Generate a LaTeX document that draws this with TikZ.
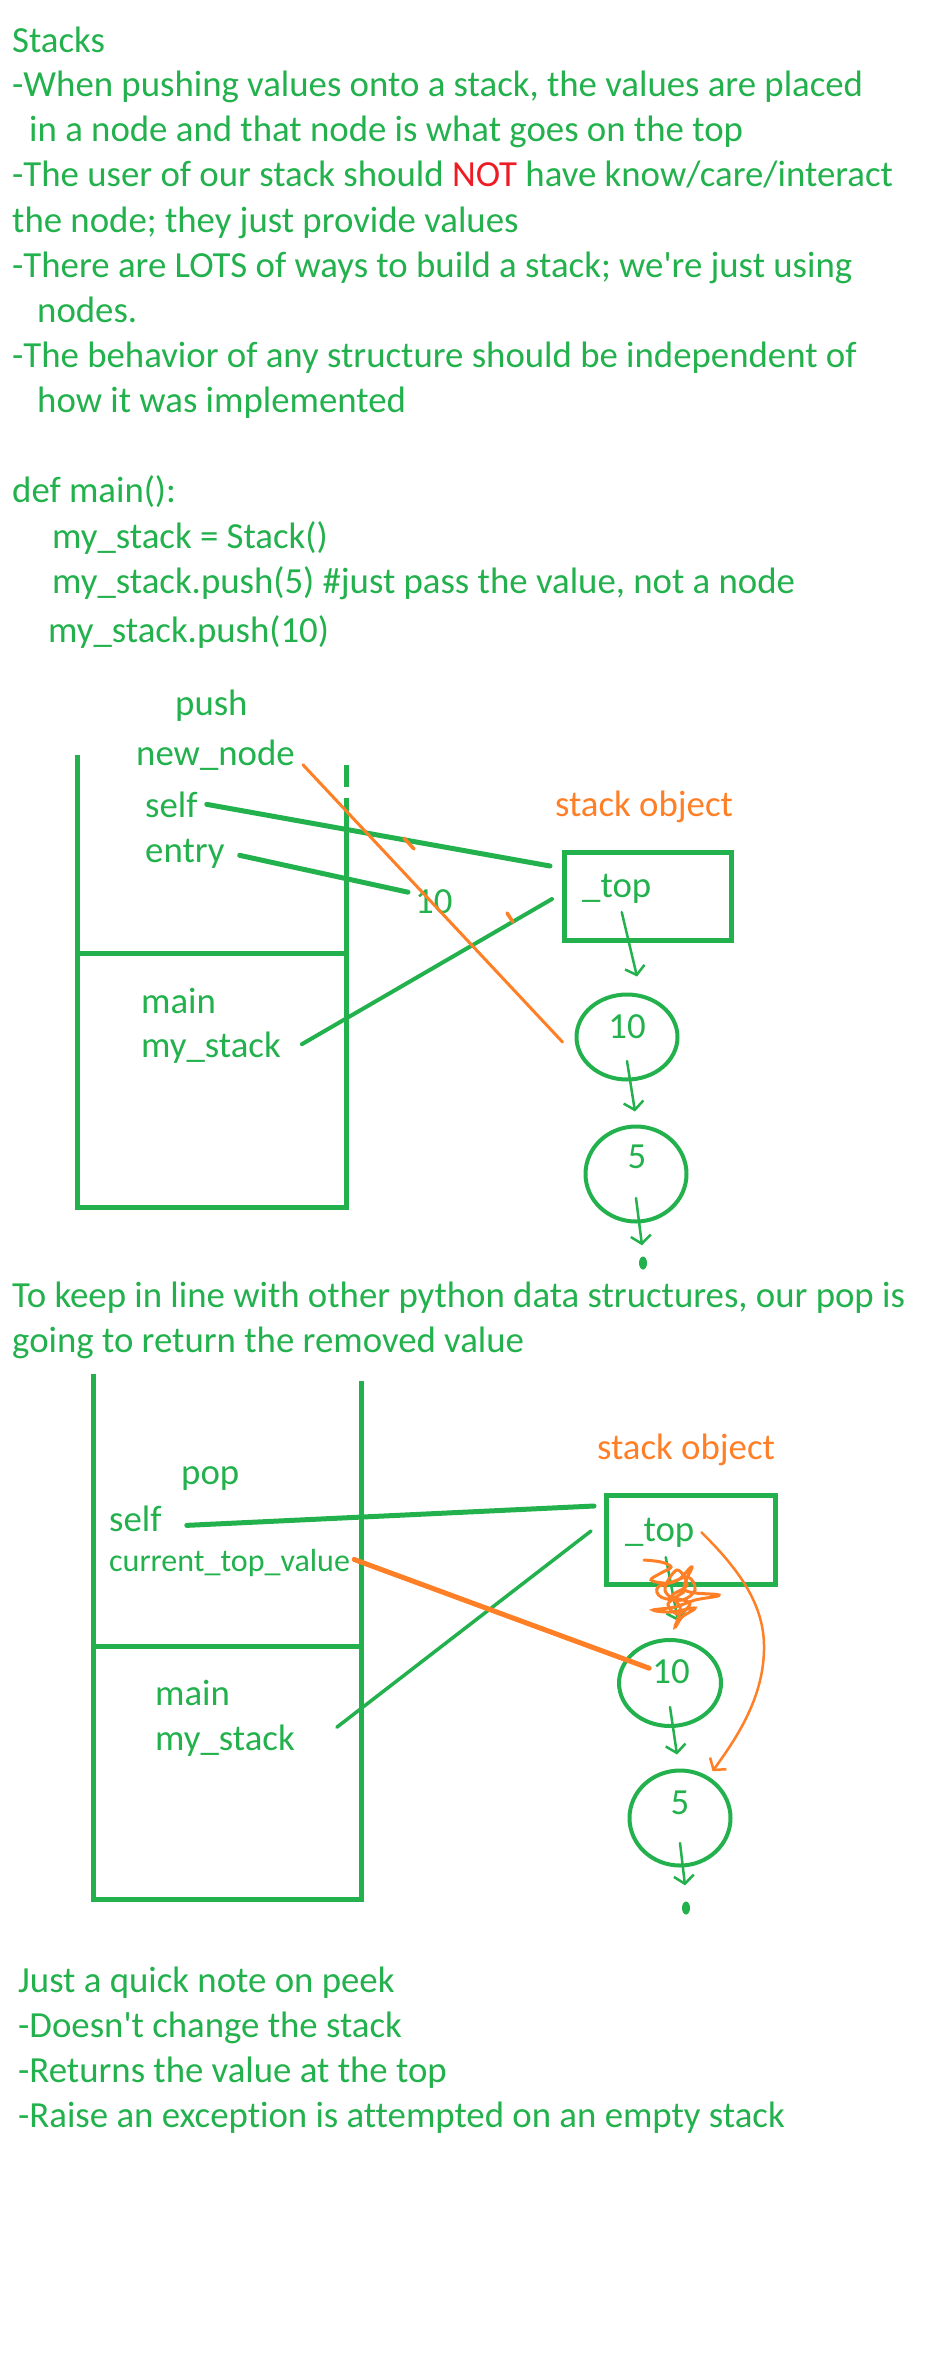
\documentclass[tikz,border=0pt]{standalone}
\usepackage{fontspec}
\setmainfont{Carlito}[Ligatures={NoCommon}]
\usetikzlibrary{arrows.meta,shapes.geometric,positioning}
\definecolor{pgreen}{RGB}{34,177,76}
\definecolor{porange}{RGB}{255,127,39}
\definecolor{pred}{RGB}{237,28,36}

\begin{document}
\begin{tikzpicture}[x=1pt, y=-1pt,
    txt/.style={anchor=base west, inner sep=0pt, text=pgreen, font=\fontsize{36.8}{44}\selectfont},
    stxt/.style={txt, font=\fontsize{32}{38}\selectfont},
    wall/.style={pgreen, line width=5pt},
    obj/.style={draw=pgreen, line width=5pt, rectangle, inner sep=0pt},
    nd/.style={draw=pgreen, line width=4pt, ellipse, inner sep=0pt},
    gline/.style={pgreen, line width=#1, line cap=round},
    oline/.style={porange, line width=#1, line cap=round},
    arr/.style={pgreen, line width=2.5pt, line cap=round, -{Straight Barb[length=8pt, width=20pt]}},
    nil/.style={fill=pgreen, ellipse, minimum width=8pt, minimum height=13pt, inner sep=0pt}]

    \useasboundingbox (0,0) rectangle (928,2368);

    % notes at the top
    \node[txt] (l1) at (12,53)  {Stacks};
    \node[txt] (l2) at (12,97)  {-When pushing values onto a stack, the values are placed};
    \node[txt] (l3) at (29,142) {in a node and that node is what goes on the top};
    \node[txt] (l4) at (12,187) {-The user of our stack should \textcolor{pred}{NOT} have know/care/interact};
    \node[txt] (l5) at (12,232) {the node; they just provide values};
    \node[txt] (l6) at (12,277) {-There are LOTS of ways to build a stack; we\textquotesingle re just using};
    \node[txt] (l7) at (37,322) {nodes.};
    \node[txt] (l8) at (12,367) {-The behavior of any structure should be independent of};
    \node[txt] (l9) at (37,412) {how it was implemented};

    % code
    \node[txt] (c1) at (12,502) {def main():};
    \node[txt] (c2) at (52,548) {my\_stack = Stack()};
    \node[txt] (c3) at (52,593) {my\_stack.push(5) \#just pass the value, not a node};
    \node[txt] (c4) at (48,642) {my\_stack.push(10)};

    % push frame
    \draw[wall] (77,755) -- (77,1207) -- (346,1207) -- (346,798);
    \draw[wall] (346,787) -- (346,765);
    \draw[wall] (77,953) -- (346,953);
    \node[txt] (push)    at (175,715)  {push};
    \node[txt] (newnode) at (136,765)  {new\_node};
    \node[txt] (self1)   at (145,817)  {self};
    \node[txt] (entry)   at (145,862)  {entry};
    \node[txt] (main1)   at (141,1013) {main};
    \node[txt] (stk1)    at (141,1057) {my\_stack};
    \node[txt] (val)     at (415,913)  {10};

    % push stack object
    \node[txt, anchor=base, text=porange] (so1) at (644,816) {stack object};
    \node[obj, minimum width=167pt, minimum height=88pt] (box1) at (648,896) {};
    \node[txt] (top1) at (582,897) {\_top};
    \node[nd, minimum width=101pt, minimum height=85pt] (n10) at (627,1037) {};
    \node[txt, anchor=base] (n10v) at (627,1038) {10};
    \node[nd, minimum width=101pt, minimum height=95pt] (n5) at (636,1174) {};
    \node[txt, anchor=base] (n5v) at (637,1168) {5};
    \node[nil] (nil1) at (643,1263) {};

    \coordinate (tp1) at (550,866);
    \coordinate (mt1) at (552,899);
    \draw[gline=5pt] ([xshift=9pt]self1.east) -- (tp1);
    \draw[gline=5pt] ([xshift=15pt,yshift=-2pt]entry.east) -- ([xshift=-7pt,yshift=9pt]val.west);
    \draw[gline=4pt] ([xshift=21pt,yshift=3pt]stk1.east) -- (mt1);
    \draw[oline=3pt] ([xshift=8pt,yshift=-10pt]newnode.east) -- ([xshift=-12pt,yshift=-5pt]n10.west);
    \draw[oline=3.5pt] (404,838) -- (414,849);
    \draw[oline=3.5pt] (507,913) -- (513,922);

    \draw[arr] ([xshift=5pt,yshift=-9pt]top1.south) -- ([xshift=10pt,yshift=16pt]n10.north);
    \draw[arr] ([yshift=-24pt]n10.center) -- ([xshift=-1pt,yshift=13pt]n5.north);
    \draw[arr] ([yshift=-24pt]n5.center) -- ([xshift=-1pt,yshift=11pt]nil1.north);

    % pop note
    \node[txt] (q1) at (12,1307) {To keep in line with other python data structures, our pop is};
    \node[txt] (q2) at (12,1352) {going to return the removed value};

    % pop frame
    \draw[wall] (93,1374) -- (93,1899) -- (361,1899) -- (361,1381);
    \draw[wall] (93,1646) -- (361,1646);
    \node[txt]  (pop)   at (181,1484) {pop};
    \node[txt]  (self2) at (109,1531) {self};
    \node[stxt] (ctv)   at (109,1571) {current\_top\_value};
    \node[txt]  (main2) at (155,1705) {main};
    \node[txt]  (stk2)  at (155,1750) {my\_stack};

    % pop stack object
    \node[txt, anchor=base, text=porange] (so2) at (686,1459) {stack object};
    \node[obj, minimum width=169pt, minimum height=89pt] (box2) at (691,1540) {};
    \node[txt] (top2) at (625,1541) {\_top};
    \node[nd, minimum width=102pt, minimum height=86pt] (m10) at (670,1683) {};
    \node[txt, anchor=base] (m10v) at (671,1683) {10};
    \node[nd, minimum width=101pt, minimum height=95pt] (m5) at (680,1818) {};
    \node[txt, anchor=base] (m5v) at (680,1814) {5};
    \node[nil] (nil2) at (686,1908) {};

    \coordinate (ts2) at (594,1506);
    \coordinate (ms2) at (591,1531);
    \draw[gline=5pt] ([xshift=25pt,yshift=-7pt]self2.east) -- (ts2);
    \draw[gline=3.5pt] ([xshift=42pt,yshift=13pt]stk2.east) -- (ms2);
    \draw[oline=5pt] ([xshift=4pt,yshift=3pt]ctv.east) -- ([xshift=-3pt,yshift=3pt]m10v.west);

    \draw[arr] ([xshift=6pt,yshift=-10pt]top2.south) -- ([xshift=8pt,yshift=17pt]m10.north);
    \draw[arr] ([yshift=-24pt]m10.center) -- ([xshift=-3pt,yshift=14pt]m5.north);
    \draw[arr] ([yshift=-25pt]m5.center) -- ([xshift=-1pt,yshift=16pt]nil2.north);

    % crossed out link and new top
    \draw[oline=3pt] plot[smooth, tension=0.6] coordinates {(644,1560) (661,1562) (671,1567)
      (661,1573) (651,1580) (668,1583) (688,1577) (695,1590) (682,1600) (661,1597) (658,1587)
      (678,1580) (692,1567) (685,1590) (719,1595) (695,1600) (675,1607) (653,1610) (671,1612)
      (695,1608) (682,1617) (675,1627) (680,1607) (665,1590) (677,1570) (687,1585) (672,1596)
      (690,1603) (678,1614) (668,1604) (684,1592)};
    \draw[oline=2.5pt, -{Straight Barb[length=8pt, width=20pt]}] ([xshift=7pt]top2.east)
      .. controls (745,1575) and (765,1610) .. (764,1650)
      .. controls (763,1700) and (735,1740) .. ([yshift=8pt]m5.50);

    % peek note
    \node[txt] (k1) at (18,1992) {Just a quick note on peek};
    \node[txt] (k2) at (18,2037) {-Doesn\textquotesingle t change the stack};
    \node[txt] (k3) at (18,2082) {-Returns the value at the top};
    \node[txt] (k4) at (18,2127) {-Raise an exception is attempted on an empty stack};
\end{tikzpicture}
\end{document}
